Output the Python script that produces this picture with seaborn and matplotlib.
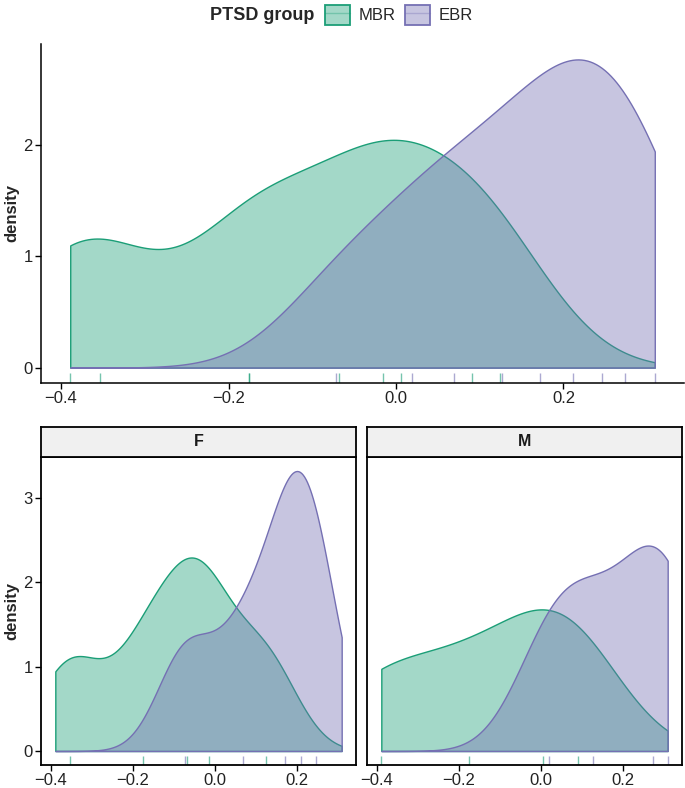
import numpy as np
import pandas as pd
import matplotlib
matplotlib.use("Agg")
import matplotlib.pyplot as plt
from matplotlib.patches import Patch
from matplotlib.lines import Line2D
from matplotlib.collections import PolyCollection
from matplotlib.ticker import FixedLocator, FuncFormatter
import seaborn as sns

mbr_f = [-0.353, -0.175, -0.068, -0.015, 0.124]
mbr_m = [-0.389, -0.176, 0.006, 0.091]
ebr_f = [-0.072, 0.069, 0.172, 0.211, 0.246]
ebr_m = [0.019, 0.127, 0.273, 0.309]

groups = ["MBR", "EBR"]
sexes = ["F", "M"]
colors = {"MBR": "#1B9E77", "EBR": "#7570B3"}
x_ticks = [-0.4, -0.2, 0.0, 0.2]

df = pd.DataFrame({
    "value": mbr_f + mbr_m + ebr_f + ebr_m,
    "group": ["MBR"] * (len(mbr_f) + len(mbr_m)) + ["EBR"] * (len(ebr_f) + len(ebr_m)),
    "sex": ["F"] * len(mbr_f) + ["M"] * len(mbr_m) + ["F"] * len(ebr_f) + ["M"] * len(ebr_m),
})

sns.set_style("white")
plt.rcParams["font.family"] = ["Liberation Sans", "DejaVu Sans"]

lo, hi = df["value"].min(), df["value"].max()
FS = 12


def nrd0_factor(v):
    # R's bw.nrd0 as a factor of the sample sd (for gaussian_kde)
    v = np.asarray(v)
    sd = v.std(ddof=1)
    iqr = np.subtract(*np.percentile(v, [75, 25]))
    bw = 0.9 * min(sd, iqr / 1.34) * len(v) ** -0.2
    return bw / sd


def density_max(ax):
    return max(p.vertices[:, 1].max() for c in ax.collections
               if isinstance(c, PolyCollection) for p in c.get_paths())


def draw_panel(ax, sub):
    for g in groups:
        v = sub.loc[sub["group"] == g, "value"]
        sns.kdeplot(x=v, ax=ax, fill=True, bw_method=nrd0_factor(v), clip=(lo, hi), cut=20,
                    color=colors[g], alpha=0.4, linewidth=1.0)
    for g in groups:
        v = sub.loc[sub["group"] == g, "value"]
        sns.rugplot(x=v, ax=ax, height=0.03, color=colors[g], alpha=0.6, linewidth=1.0)
    ax.set_xlim(lo - 0.05 * (hi - lo), hi + 0.05 * (hi - lo))
    ax.xaxis.set_major_locator(FixedLocator(x_ticks))
    ax.xaxis.set_major_formatter(FuncFormatter(lambda v, p: f"{v:.1f}".replace("-", "\u2212")))
    ax.tick_params(axis="both", direction="out", length=4, width=1, color="black",
                   labelsize=FS, labelcolor="#222222", bottom=True, left=True, pad=2)
    ax.set_xlabel("")
    ax.set_ylabel("")


W, H = 685, 788
fig = plt.figure(figsize=(W / 100, H / 100), dpi=100)


def px_axes(x0, y0, x1, y1):
    return fig.add_axes([x0 / W, 1 - y1 / H, (x1 - x0) / W, (y1 - y0) / H])


# top panel: all participants
ax_top = px_axes(41, 44, 684, 383)
draw_panel(ax_top, df)
ymax = density_max(ax_top)
ax_top.set_ylim(-0.05 * ymax, 1.05 * ymax)
ax_top.yaxis.set_major_locator(FixedLocator([0, 1, 2]))
ax_top.yaxis.set_major_formatter(FuncFormatter(lambda v, p: f"{v:.0f}"))
for s in ["top", "right"]:
    ax_top.spines[s].set_visible(False)
for s in ["left", "bottom"]:
    ax_top.spines[s].set_color("black")
    ax_top.spines[s].set_linewidth(1.1)
ax_top.set_ylabel("density", fontsize=FS, fontweight="bold", labelpad=3)

# bottom facets by sex
panel_x = {"F": (41, 356), "M": (367, 682)}
facet_axes = {}
for sx in sexes:
    x0, x1 = panel_x[sx]
    ax = px_axes(x0, 457, x1, 765)
    facet_axes[sx] = ax
    draw_panel(ax, df[df["sex"] == sx])
    for s in ax.spines.values():
        s.set_visible(True)
        s.set_color("black")
        s.set_linewidth(1.3)
    # strip
    sax = px_axes(x0, 427, x1, 457)
    sax.set_facecolor("#F0F0F0")
    sax.set_xticks([])
    sax.set_yticks([])
    for s in sax.spines.values():
        s.set_visible(True)
        s.set_color("black")
        s.set_linewidth(1.3)
    sax.text(0.5, 0.5, sx, ha="center", va="center", fontsize=FS - 0.5, fontweight="bold",
             color="#1a1a1a", transform=sax.transAxes)

ymax_b = max(density_max(a) for a in facet_axes.values())
for sx, ax in facet_axes.items():
    ax.set_ylim(-0.05 * ymax_b, 1.05 * ymax_b)
    ax.yaxis.set_major_locator(FixedLocator([0, 1, 2, 3]))
    ax.yaxis.set_major_formatter(FuncFormatter(lambda v, p: f"{v:.0f}"))
facet_axes["M"].tick_params(axis="y", labelleft=False, left=False)
facet_axes["F"].set_ylabel("density", fontsize=FS, fontweight="bold", labelpad=3)

# legend
handles = [(Patch(facecolor=colors[g], alpha=0.4, edgecolor="none"),
            Patch(facecolor="none", edgecolor=colors[g], linewidth=1.3),
            Line2D([0], [0], color=colors[g], alpha=0.35, linewidth=1.0)) for g in groups]
fig.text(210 / W, 1 - 15 / H, "PTSD group", fontsize=13, fontweight="bold", va="center", ha="left")
fig.legend(handles, groups, ncol=2, loc="center left", bbox_to_anchor=(325 / W, 1 - 15 / H),
           frameon=False, fontsize=FS, handlelength=1.5, handleheight=1.5, handletextpad=0.5,
           columnspacing=0.6, borderaxespad=0, borderpad=0)

fig.savefig("out.png", dpi=100)
